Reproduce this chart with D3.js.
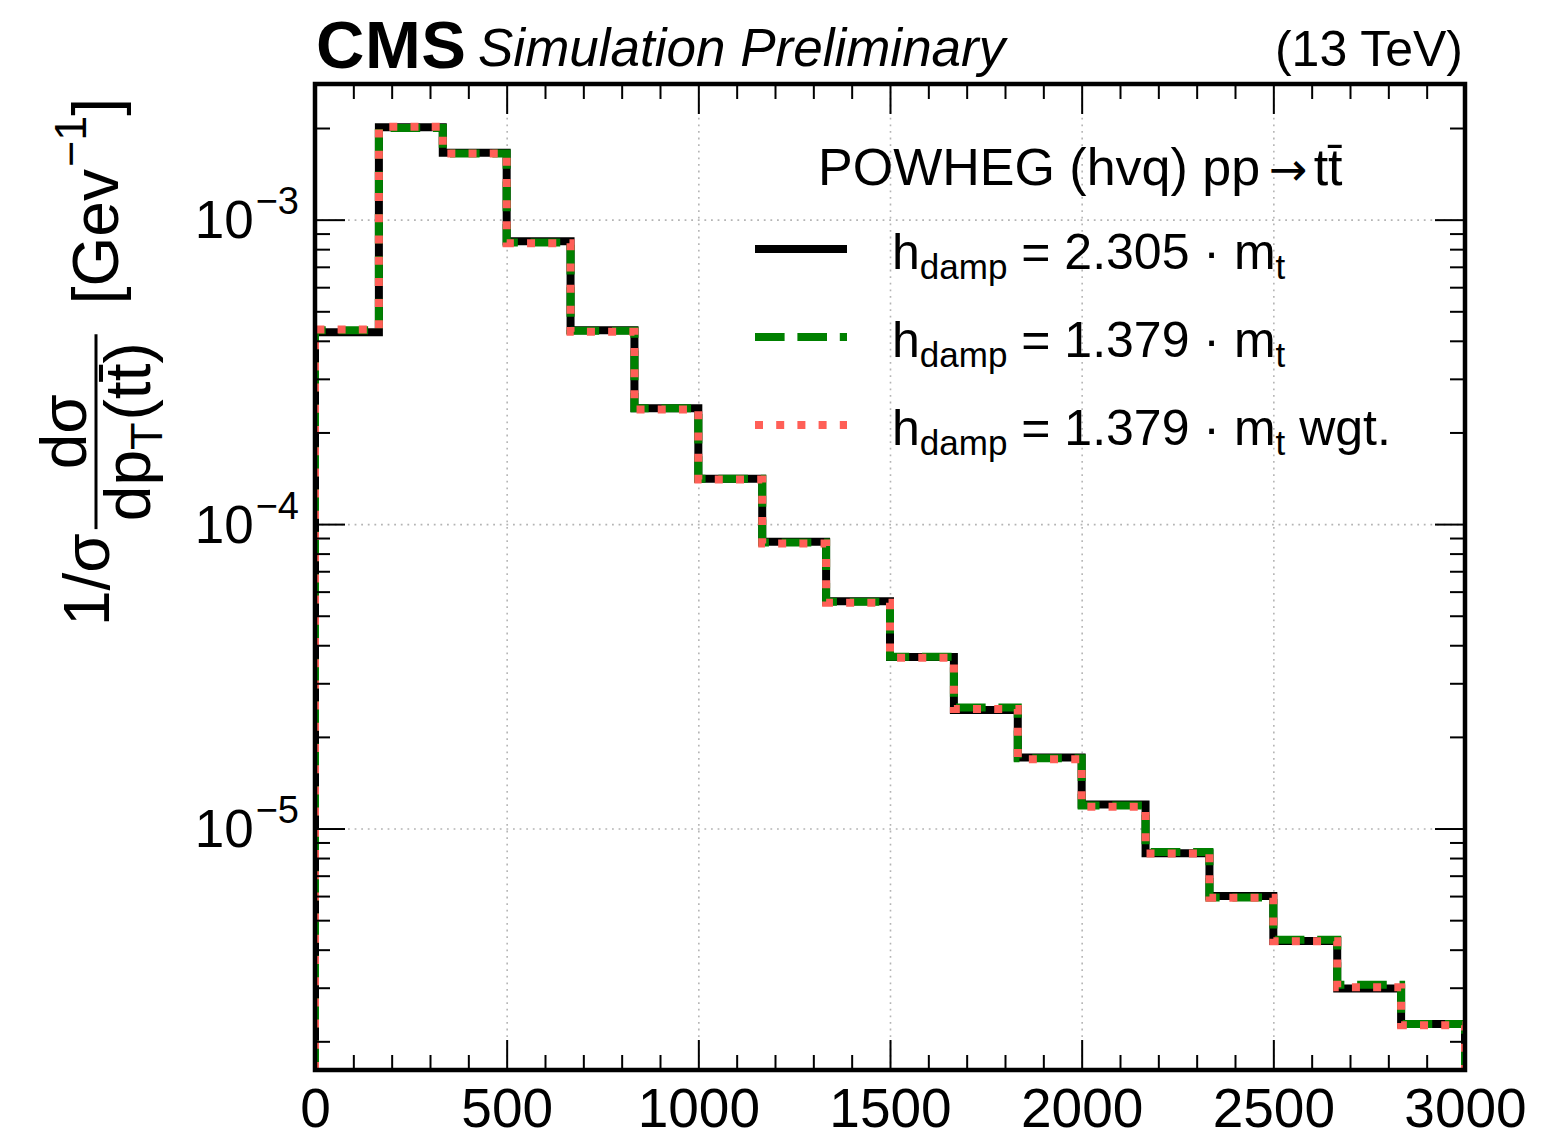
<!DOCTYPE html>
<html>
<head>
<meta charset="utf-8">
<script src="https://cdn.jsdelivr.net/npm/d3@7"></script>
<style>
  html, body { margin: 0; padding: 0; background: #fff; }
  svg { display: block; font-family: "Liberation Sans", Arial, Helvetica, sans-serif; }
  text { white-space: pre; }
</style>
</head>
<body>
<div id="chart"></div>
<script>
// bin edges of pT(tt) [GeV]
const binEdges = [0, 166.67, 333.33, 500, 666.67, 833.33, 1000, 1166.67, 1333.33, 1500,
                  1666.67, 1833.33, 2000, 2166.67, 2333.33, 2500, 2666.67, 2833.33, 3000];

// normalised distributions
const hdamp2305 = [4.27e-4, 2.01e-3, 1.66e-3, 8.50e-4, 4.33e-4, 2.40e-4, 1.41e-4, 8.75e-5, 5.58e-5,
                   3.66e-5, 2.45e-5, 1.71e-5, 1.20e-5, 8.30e-6, 6.00e-6, 4.27e-6, 2.98e-6, 2.28e-6];
const hdamp1379 = [4.33e-4, 2.00e-3, 1.65e-3, 8.42e-4, 4.32e-4, 2.40e-4, 1.41e-4, 8.70e-5, 5.56e-5,
                   3.67e-5, 2.50e-5, 1.70e-5, 1.19e-5, 8.38e-6, 5.94e-6, 4.31e-6, 3.07e-6, 2.28e-6];
const hdamp1379wgt = [4.36e-4, 2.02e-3, 1.65e-3, 8.36e-4, 4.28e-4, 2.38e-4, 1.40e-4, 8.64e-5, 5.52e-5,
                      3.64e-5, 2.47e-5, 1.69e-5, 1.18e-5, 8.28e-6, 5.92e-6, 4.26e-6, 3.01e-6, 2.26e-6];

const xMajor = [0, 500, 1000, 1500, 2000, 2500, 3000];
const xMinor = [100, 200, 300, 400, 600, 700, 800, 900, 1100, 1200, 1300, 1400, 1600, 1700, 1800, 1900,
                2100, 2200, 2300, 2400, 2600, 2700, 2800, 2900];
const yMajor = [1e-3, 1e-4, 1e-5];
const yExp = ["−3", "−4", "−5"];

(function() {
const W = 1547, H = 1139;
const pLeft = 315, pRight = 1465, pTop = 84, pBottom = 1070;

const x = d3.scaleLinear().domain([0, 3000]).range([pLeft, pRight]);
const y = d3.scaleLog().domain([1.61e-6, 2.79e-3]).range([pBottom, pTop]);

// minor log ticks (2..9 x 10^n) inside the domain
const yMinor = [];
[-6, -5, -4, -3].forEach(e => {
    for (let k = 2; k <= 9; k++) {
        const v = k * Math.pow(10, e);
        if (v > y.domain()[0] && v < y.domain()[1]) yMinor.push(v);
    }
});

const svg = d3.select("#chart").append("svg")
    .attr("width", W)
    .attr("height", H);

svg.append("rect").attr("width", W).attr("height", H).attr("fill", "#fff");

svg.append("clipPath").attr("id", "plotclip")
    .append("rect")
    .attr("x", pLeft).attr("y", pTop)
    .attr("width", pRight - pLeft).attr("height", pBottom - pTop);

// --- grid ---
const grid = svg.append("g");
grid.append("g")
    .attr("transform", `translate(0,${pBottom})`)
    .call(d3.axisBottom(x).tickValues(xMajor.slice(1, -1)).tickSize(-(pBottom - pTop)).tickFormat(""));
grid.append("g")
    .attr("transform", `translate(${pLeft},0)`)
    .call(d3.axisLeft(y).tickValues(yMajor).tickSize(-(pRight - pLeft)).tickFormat(""));
grid.selectAll(".domain").remove();
grid.selectAll("line")
    .attr("stroke", "#b4b4b4")
    .attr("stroke-width", 1.6)
    .attr("stroke-dasharray", "1.8,4.8");

// --- histograms (step) ---
function stepPoints(vals) {
    const floor = y.domain()[0];
    const pts = [[binEdges[0], floor]];
    vals.forEach((v, i) => {
        pts.push([binEdges[i], v]);
        pts.push([binEdges[i + 1], v]);
    });
    pts.push([binEdges[binEdges.length - 1], floor]);
    return pts;
}
const line = d3.line().x(d => x(d[0])).y(d => y(d[1]));

const series = [
    { vals: hdamp2305, color: "#000000", dash: null, label: "2.305", extra: "" },
    { vals: hdamp1379, color: "#008000", dash: "29.6,12.8", label: "1.379", extra: "" },
    { vals: hdamp1379wgt, color: "#ff5f57", dash: "8,13.2", label: "1.379", extra: " wgt." }
];

const hist = svg.append("g").attr("clip-path", "url(#plotclip)");
series.forEach(s => {
    hist.append("path")
        .attr("d", line(stepPoints(s.vals)))
        .attr("fill", "none")
        .attr("stroke", s.color)
        .attr("stroke-width", 8)
        .attr("stroke-linejoin", "miter")
        .attr("stroke-dasharray", s.dash);
});

// --- ticks on all four sides ---
const ticks = svg.append("g");
function tickAxis(axisFn, scale, values, size, tx, ty) {
    return ticks.append("g")
        .attr("transform", `translate(${tx},${ty})`)
        .call(axisFn(scale).tickValues(values).tickSizeInner(-size).tickSizeOuter(0).tickFormat(""));
}
tickAxis(d3.axisTop, x, xMajor, 30, 0, pTop);
tickAxis(d3.axisTop, x, xMinor, 15, 0, pTop);
tickAxis(d3.axisRight, y, yMajor, 30, pRight, 0);
tickAxis(d3.axisRight, y, yMinor, 15, pRight, 0);
tickAxis(d3.axisLeft, y, yMinor, 15, pLeft, 0);
tickAxis(d3.axisBottom, x, xMinor, 15, 0, pBottom);

const xAxis = ticks.append("g")
    .attr("transform", `translate(0,${pBottom})`)
    .call(d3.axisBottom(x).tickValues(xMajor).tickSizeInner(-30).tickSizeOuter(0)
        .tickPadding(18).tickFormat(d3.format("d")));
xAxis.selectAll("text")
    .attr("font-size", 55)
    .attr("font-family", "Liberation Sans, Arial, sans-serif")
    .attr("fill", "#000");

const yAxis = ticks.append("g")
    .attr("transform", `translate(${pLeft},0)`)
    .call(d3.axisLeft(y).tickValues(yMajor).tickSizeInner(-30).tickSizeOuter(0).tickPadding(16));
yAxis.selectAll("text")
    .attr("font-size", 53)
    .attr("font-family", "Liberation Sans, Arial, sans-serif")
    .attr("fill", "#000")
    .attr("dy", "0.34em")
    .each(function(d, i) {
        const t = d3.select(this).text("");
        t.append("tspan").text("10");
        t.append("tspan").attr("font-size", 38).attr("dx", 2).attr("dy", -24).text(yExp[i]);
    });

ticks.selectAll(".domain").remove();
ticks.selectAll("line").attr("stroke", "#000").attr("stroke-width", 2);

// --- frame ---
svg.append("rect")
    .attr("x", pLeft).attr("y", pTop)
    .attr("width", pRight - pLeft).attr("height", pBottom - pTop)
    .attr("fill", "none")
    .attr("stroke", "#000")
    .attr("stroke-width", 4.5);

// --- header ---
svg.append("text")
    .attr("x", 316).attr("y", 68)
    .attr("font-size", 67).attr("font-weight", "bold")
    .attr("textLength", 150)
    .text("CMS");
svg.append("text")
    .attr("x", 478).attr("y", 66)
    .attr("font-size", 53).attr("font-style", "italic")
    .text("Simulation Preliminary");
svg.append("text")
    .attr("x", 1463).attr("y", 66)
    .attr("font-size", 50).attr("text-anchor", "end")
    .text("(13 TeV)");

// --- legend ---
const legend = svg.append("g");
const lt = legend.append("text")
    .attr("x", 818).attr("y", 185)
    .attr("font-size", 52);
lt.append("tspan").text("POWHEG (hvq) pp");
lt.append("tspan").attr("font-family", "DejaVu Sans").attr("font-size", 46).attr("dx", 9).text("→");
lt.append("tspan").attr("dx", 6).text("tt\u0304");

const rowBase = [269, 357, 445];
series.forEach((s, i) => {
    const yb = rowBase[i];
    legend.append("line")
        .attr("x1", 755).attr("x2", 847)
        .attr("y1", yb - 20).attr("y2", yb - 20)
        .attr("stroke", s.color)
        .attr("stroke-width", 8)
        .attr("stroke-dasharray", s.dash);
    const t = legend.append("text")
        .attr("x", 892).attr("y", yb)
        .attr("font-size", 50);
    t.append("tspan").text("h");
    t.append("tspan").attr("font-size", 35).attr("dy", 10).text("damp");
    t.append("tspan").attr("dy", -10).text(` = ${s.label} · m`);
    t.append("tspan").attr("font-size", 35).attr("dy", 10).text("t");
    if (s.extra) t.append("tspan").attr("dy", -10).text(s.extra);
});

// --- y axis title (rotated) ---
const yl = svg.append("g").attr("transform", "rotate(-90)");
const fs = 64;
let pos = 626;   // screen y where the label starts (bottom)
const t1 = yl.append("text")
    .attr("x", -pos).attr("y", 109)
    .attr("font-size", fs)
    .text("1/σ");
pos -= t1.node().getComputedTextLength() + 4;

const num = yl.append("text").attr("y", 86).attr("font-size", fs).attr("text-anchor", "middle").text("dσ");
const den = yl.append("text").attr("y", 150).attr("font-size", fs).attr("text-anchor", "middle");
den.append("tspan").text("dp");
den.append("tspan").attr("font-size", 45).attr("dy", 12).text("T");
den.append("tspan").attr("dy", -12).attr("dx", 2).text("(tt\u0304)");
const fw = Math.max(num.node().getComputedTextLength(), den.node().getComputedTextLength()) + 18;
const fc = pos - fw / 2;
num.attr("x", -fc);
den.attr("x", -fc);
yl.append("line")
    .attr("x1", -pos).attr("x2", -(pos - fw))
    .attr("y1", 96).attr("y2", 96)
    .attr("stroke", "#000").attr("stroke-width", 3);
pos -= fw + 30;

const t3 = yl.append("text")
    .attr("x", -pos).attr("y", 118)
    .attr("font-size", fs);
t3.append("tspan").text("[Gev");
t3.append("tspan").attr("font-size", 45).attr("dy", -32).attr("dx", 2).text("−1");
t3.append("tspan").attr("dy", 32).text("]");
})();
</script>
</body>
</html>
